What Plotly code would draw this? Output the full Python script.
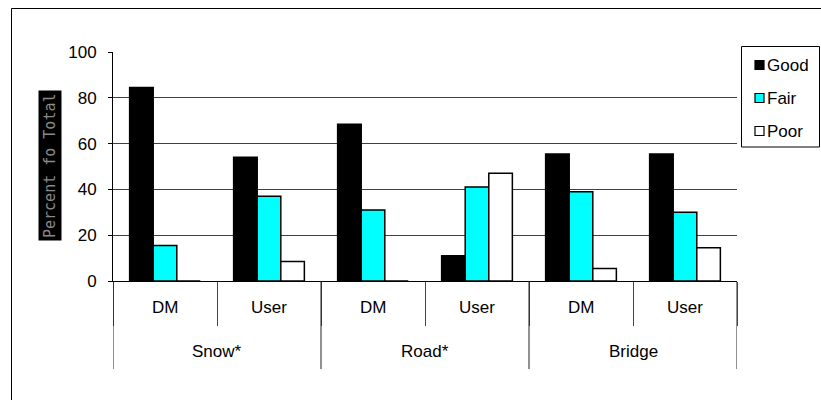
import plotly.graph_objects as go

# ---------------- data ----------------
groups = ["Snow*", "Road*", "Bridge"]
subgroups = ["DM", "User"]
series_names = ["Good", "Fair", "Poor"]
good = [84.5, 54.0, 68.5, 11.0, 55.5, 55.5]
fair = [15.5, 37.0, 31.0, 41.0, 39.0, 30.0]
poor = [0.0, 8.5, 0.0, 47.0, 5.5, 14.5]
y_ticks = [0, 20, 40, 60, 80, 100]
y_title = "Percent fo Total"

# ---------------- style ----------------
colors = {"Good": "#000000", "Fair": "#00FFFF", "Poor": "#FFFFFF"}
FONT = "Liberation Sans, Arial, sans-serif"
FS = 17

W, H = 821, 400
L, R, T, B = 113, 84, 52, 119
pw, ph = W - L - R, H - T - B


def px(x):
    return (x - L) / pw


def py(y):
    return (H - B - y) / ph


cats = [f"{g} {s}" for g in groups for s in subgroups]
values = {"Good": good, "Fair": fair, "Poor": poor}

fig = go.Figure()
for name in series_names:
    fig.add_trace(go.Bar(
        x=cats, y=values[name], name=name,
        marker=dict(color=colors[name], line=dict(color="black", width=1.5)),
        showlegend=False,
    ))

shapes = []
annotations = []

# group dividers under the axis
for i in range(len(groups) + 1):
    xv = i * len(subgroups) - 0.5
    shapes.append(dict(type="line", xref="x", yref="paper", x0=xv, x1=xv,
                       y0=0, y1=py(369), line=dict(color="#222222", width=1)))

# category labels
for i, c in enumerate(cats):
    annotations.append(dict(x=i, xref="x", y=py(307), yref="paper",
                            text=subgroups[i % len(subgroups)], showarrow=False,
                            xanchor="center", yanchor="middle",
                            font=dict(family=FONT, size=FS, color="black")))
for gi, g in enumerate(groups):
    annotations.append(dict(x=gi * len(subgroups) + (len(subgroups) - 1) / 2,
                            xref="x", y=py(351), yref="paper", text=g,
                            showarrow=False, xanchor="center", yanchor="middle",
                            font=dict(family=FONT, size=FS, color="black")))

# outer frame
shapes.append(dict(type="rect", xref="paper", yref="paper",
                   x0=px(11.5), x1=px(W + 5), y0=py(8.5), y1=py(H + 5),
                   line=dict(color="black", width=1), layer="below"))

# legend
shapes.append(dict(type="rect", xref="paper", yref="paper",
                   x0=px(741.5), x1=px(819.5), y0=py(46.5), y1=py(147),
                   line=dict(color="black", width=1), fillcolor="white"))
for k, name in enumerate(series_names):
    cy = 65 + 33 * k
    shapes.append(dict(type="rect", xref="paper", yref="paper",
                       x0=px(755), x1=px(764), y0=py(cy - 4.5), y1=py(cy + 4.5),
                       line=dict(color="black", width=1.2),
                       fillcolor=colors[name]))
    annotations.append(dict(x=px(765), xref="paper", y=py(cy), yref="paper",
                            text=name, showarrow=False, xanchor="left",
                            yanchor="middle",
                            font=dict(family=FONT, size=FS, color="black")))

# y-axis title box
annotations.append(dict(x=px(49.5), xref="paper", y=py(165.5), yref="paper",
                        text=y_title, textangle=-90, showarrow=False,
                        xanchor="center", yanchor="middle",
                        bgcolor="black", borderpad=2,
                        font=dict(family="DejaVu Sans Mono, monospace",
                                  size=15, color="#8a8a8a")))

fig.update_layout(
    width=W, height=H,
    margin=dict(l=L, r=R, t=T, b=B, pad=0),
    paper_bgcolor="white", plot_bgcolor="white",
    barmode="group", bargap=0.32, bargroupgap=0,
    font=dict(family=FONT, size=FS, color="black"),
    shapes=shapes, annotations=annotations,
    showlegend=False,
    xaxis=dict(type="category", categoryorder="array", categoryarray=cats,
               range=[-0.5, len(cats) - 0.5], showticklabels=False,
               showline=True, linecolor="black", linewidth=1,
               ticks="outside", tickson="boundaries", ticklen=44,
               tickcolor="#444444", tickwidth=1, showgrid=False,
               zeroline=False, fixedrange=True),
    yaxis=dict(range=[0, 100], tickvals=y_ticks, ticktext=[str(v) for v in y_ticks],
               showline=True, linecolor="black", linewidth=1,
               ticks="outside", ticklen=4, tickcolor="black", tickwidth=1,
               showgrid=True, gridcolor="#404040", gridwidth=1,
               zeroline=False, ticklabelstandoff=8,
               tickfont=dict(family=FONT, size=FS, color="black"),
               fixedrange=True),
)

fig.write_html("out.html")
